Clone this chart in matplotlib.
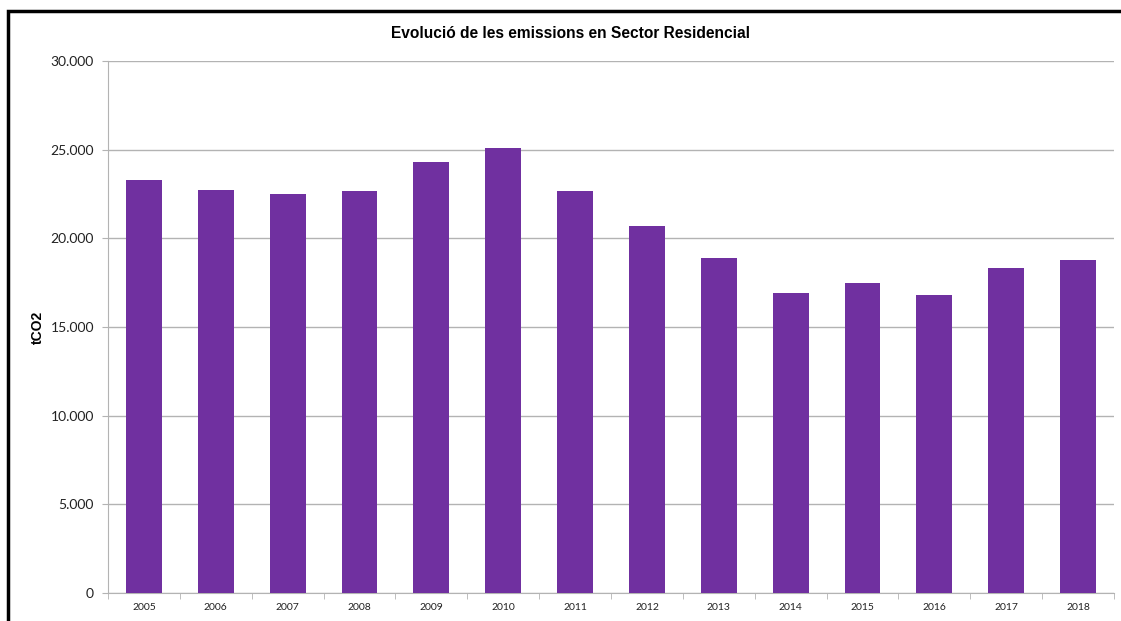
import matplotlib
matplotlib.use("Agg")
import matplotlib.pyplot as plt
from matplotlib.patches import Rectangle
from matplotlib.ticker import FuncFormatter, MultipleLocator

# ------------------ Data ------------------
years = ["2005", "2006", "2007", "2008", "2009", "2010", "2011",
         "2012", "2013", "2014", "2015", "2016", "2017", "2018"]
emissions = [23300, 22700, 22500, 22650, 24300, 25100, 22650,
             20700, 18900, 16900, 17500, 16820, 18350, 18780]

bar_color = "#7030A0"
grid_color = "#b3b3b3"

# ------------------ Chart ------------------
fig = plt.figure(figsize=(11.21, 6.21), dpi=100)
ax = fig.add_axes([0.0963, 0.0451, 0.8975, 0.8567])

x = range(len(years))
ax.bar(x, emissions, width=0.5, color=bar_color, zorder=3)

ax.set_xlim(-0.5, len(years) - 0.5)
ax.set_ylim(0, 30000)
ax.yaxis.set_major_locator(MultipleLocator(5000))
ax.yaxis.set_major_formatter(FuncFormatter(lambda v, p: f"{int(v):,}".replace(",", ".")))
ax.grid(axis="y", color=grid_color, linewidth=1, zorder=0)

# year labels centred, tick marks between categories
ax.set_xticks(list(x))
ax.set_xticklabels(years, fontsize=7.5, family="Lato", color="#222222")
ax.tick_params(axis="x", length=0, pad=7)
ax.set_xticks([i - 0.5 for i in range(len(years) + 1)], minor=True)
ax.tick_params(axis="x", which="minor", length=4, color=grid_color, direction="out")
ax.tick_params(axis="y", length=4, color=grid_color, labelsize=10, pad=6, labelcolor="#222222")
for lbl in ax.get_yticklabels():
    lbl.set_family("Lato")

for side in ["top", "right"]:
    ax.spines[side].set_visible(False)
ax.spines["left"].set_color(grid_color)
ax.spines["bottom"].set_color(grid_color)

ax.set_ylabel("tCO2", fontsize=10, fontweight="bold", family="Liberation Sans", labelpad=4)
fig.text(0.509, 0.946, "Evolució de les emissions en Sector Residencial",
         ha="center", va="center", fontsize=11.2, fontweight="bold", family="Liberation Sans")

# outer frame (cut off on right and bottom like the screenshot)
frame = Rectangle((8 / 1121, -0.05), 1.1, 0.05 + (621 - 11) / 621, transform=fig.transFigure,
                  fill=False, edgecolor="black", linewidth=2.5, clip_on=False)
fig.patches.append(frame)

fig.savefig("out.png", dpi=100)
plt.close()
